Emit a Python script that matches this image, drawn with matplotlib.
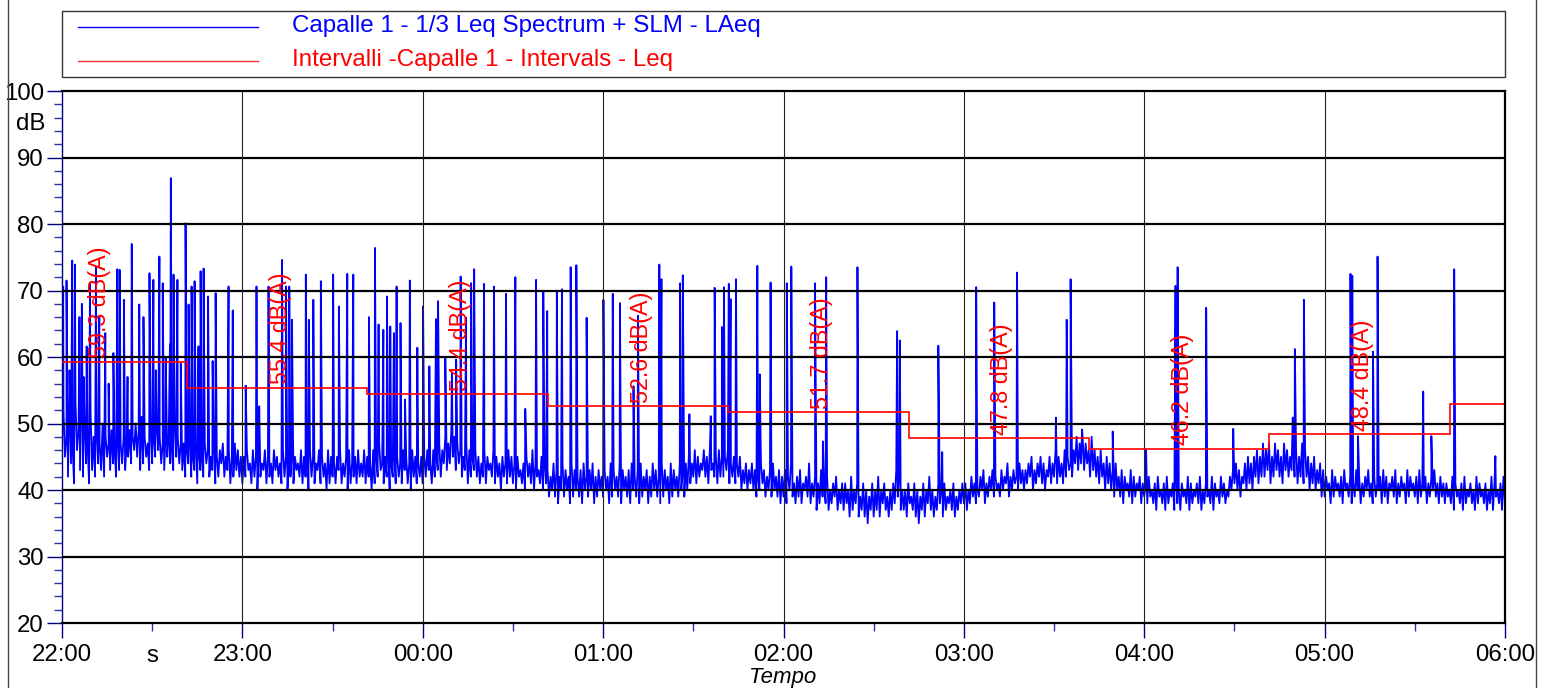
import matplotlib
matplotlib.use("Agg")
import matplotlib.pyplot as plt
import numpy as np
from matplotlib import ticker
from matplotlib.patches import Rectangle
from matplotlib.lines import Line2D
import matplotlib.transforms as mtransforms

plt.rcParams['font.family'] = ['Liberation Sans', 'DejaVu Sans']

W, H = 1543, 688

# LAeq lower envelope, one value per minute from 22:00 (minute 0) to 06:00 (minute 480)
laeq_low = [
    43, 45, 42, 44, 41, 46, 43, 42, 44, 41, 43, 42, 44, 43, 42, 45, 43, 44, 42, 43,
    44, 43, 45, 44, 46, 45, 43, 44, 45, 43, 44, 45, 46, 44, 43, 45, 44, 43, 45, 44,
    43, 42, 44, 42, 43, 41, 43, 42, 44, 42, 43, 41, 42, 44, 42, 43, 41, 42, 43, 42,
    41, 42, 43, 41, 42, 40, 42, 43, 41, 42, 41, 43, 42, 41, 42, 40, 42, 41, 43, 42,
    41, 42, 40, 42, 41, 43, 41, 42, 40, 41, 42, 41, 43, 41, 42, 40, 41, 42, 41, 42,
    42, 41, 42, 40, 41, 42, 43, 41, 42, 40, 42, 41, 42, 41, 43, 41, 40, 42, 41, 42,
    41, 42, 43, 41, 42, 43, 42, 44, 43, 44, 45, 43, 44, 42, 43, 41, 42, 43, 42, 41,
    42, 41, 43, 42, 41, 42, 40, 42, 41, 42, 41, 40, 42, 41, 40, 42, 41, 40, 42, 41,
    40, 41, 39, 40, 39, 38, 40, 39, 40, 38, 39, 40, 39, 38, 40, 39, 40, 38, 39, 40,
    39, 40, 38, 39, 40, 39, 38, 40, 39, 38, 40, 39, 38, 39, 40, 38, 39, 40, 39, 38,
    39, 40, 38, 39, 40, 39, 40, 39, 40, 41, 42, 41, 42, 43, 42, 41, 43, 42, 41, 42,
    42, 43, 41, 42, 41, 42, 40, 41, 40, 41, 40, 39, 40, 41, 39, 40, 39, 40, 39, 38,
    39, 38, 40, 39, 38, 39, 38, 40, 39, 38, 39, 37, 38, 39, 38, 37, 38, 39, 37, 38,
    37, 38, 36, 37, 38, 36, 37, 36, 35, 37, 36, 37, 36, 38, 37, 36, 37, 38, 39, 37,
    37, 36, 38, 37, 36, 35, 37, 36, 38, 37, 36, 37, 38, 36, 37, 38, 37, 36, 37, 38,
    38, 37, 38, 39, 38, 39, 40, 38, 39, 40, 39, 40, 39, 40, 41, 39, 40, 41, 40, 41,
    40, 41, 42, 40, 41, 42, 41, 40, 42, 41, 42, 41, 42, 41, 42, 43, 42, 44, 43, 44,
    43, 44, 42, 43, 42, 41, 42, 40, 41, 40, 39, 40, 39, 38, 40, 39, 38, 39, 40, 38,
    39, 38, 39, 38, 37, 39, 38, 37, 38, 39, 37, 38, 37, 39, 38, 37, 38, 39, 38, 37,
    38, 39, 38, 37, 39, 38, 39, 38, 39, 40, 41, 40, 39, 41, 40, 41, 40, 42, 41, 42,
    42, 43, 41, 42, 43, 42, 41, 43, 42, 43, 42, 41, 42, 41, 42, 40, 41, 40, 41, 39,
    39, 40, 38, 39, 40, 39, 38, 40, 39, 38, 39, 40, 38, 39, 40, 39, 38, 39, 40, 38,
    39, 38, 40, 39, 38, 39, 40, 38, 39, 40, 39, 38, 39, 40, 38, 39, 40, 39, 38, 39,
    38, 39, 38, 37, 39, 38, 37, 38, 39, 38, 37, 38, 39, 38, 37, 38, 37, 39, 38, 37,
    38,
]

# LAeq upper envelope, at the half minutes (minute + 0.5)
laeq_high = [
    52, 48, 55, 47, 53, 49, 56, 50, 47, 52, 48, 49, 47, 50, 48, 47, 49, 46, 48, 47,
    48, 47, 49, 48, 50, 49, 51, 48, 47, 49, 48, 50, 48, 47, 49, 48, 47, 50, 48, 47,
    47, 46, 48, 45, 47, 46, 45, 47, 46, 45, 47, 45, 46, 47, 45, 46, 45, 47, 46, 45,
    45, 46, 44, 46, 45, 47, 44, 46, 45, 44, 46, 45, 44, 46, 45, 44, 46, 45, 44, 46,
    45, 44, 46, 45, 44, 46, 45, 44, 46, 45, 44, 45, 46, 44, 45, 46, 44, 45, 46, 44,
    46, 45, 44, 46, 45, 47, 44, 45, 46, 44, 46, 45, 44, 46, 45, 44, 46, 45, 44, 45,
    45, 46, 44, 46, 45, 47, 46, 48, 47, 49, 48, 47, 46, 45, 47, 46, 45, 46, 45, 44,
    46, 45, 44, 46, 45, 44, 45, 44, 46, 45, 44, 45, 43, 44, 45, 44, 46, 44, 43, 45,
    44, 43, 42, 44, 43, 42, 44, 43, 42, 44, 43, 42, 43, 44, 42, 43, 44, 42, 43, 42,
    43, 42, 44, 43, 42, 44, 43, 42, 43, 44, 42, 43, 44, 42, 43, 42, 44, 43, 42, 44,
    43, 42, 44, 43, 42, 44, 43, 44, 45, 44, 46, 45, 44, 46, 45, 46, 44, 45, 46, 45,
    45, 46, 44, 45, 44, 45, 43, 44, 43, 44, 43, 42, 44, 43, 42, 43, 44, 42, 43, 42,
    43, 42, 44, 41, 42, 43, 41, 42, 44, 41, 42, 41, 43, 41, 42, 40, 41, 42, 40, 41,
    41, 40, 42, 40, 41, 39, 41, 40, 39, 41, 40, 42, 40, 41, 39, 40, 41, 43, 42, 40,
    40, 41, 39, 41, 40, 39, 41, 40, 42, 40, 39, 41, 40, 41, 39, 40, 41, 39, 40, 41,
    41, 40, 42, 41, 40, 42, 43, 41, 42, 43, 42, 41, 43, 42, 44, 42, 43, 42, 44, 43,
    43, 44, 45, 43, 44, 45, 44, 43, 45, 44, 46, 45, 44, 46, 45, 44, 46, 48, 47, 48,
    47, 46, 48, 46, 45, 46, 44, 45, 44, 43, 44, 42, 43, 42, 41, 43, 42, 41, 42, 41,
    41, 42, 40, 41, 42, 40, 41, 42, 40, 41, 42, 40, 41, 40, 42, 41, 40, 41, 42, 40,
    41, 40, 42, 41, 40, 42, 41, 40, 42, 43, 44, 43, 42, 44, 45, 44, 45, 46, 45, 47,
    46, 47, 45, 47, 46, 45, 47, 46, 45, 47, 46, 45, 47, 46, 45, 44, 45, 43, 44, 43,
    42, 41, 43, 42, 41, 42, 43, 41, 42, 41, 43, 42, 41, 42, 43, 41, 42, 41, 42, 43,
    42, 41, 42, 43, 41, 42, 41, 43, 42, 41, 42, 43, 41, 42, 41, 42, 43, 41, 42, 41,
    41, 40, 42, 41, 40, 41, 42, 40, 41, 40, 42, 41, 40, 41, 40, 42, 41, 40, 41, 42,
]

# short noise events (minute, peak dB)
spike_min = [
    0.4, 1.5, 2.5, 3.4, 4.3, 5.8, 6.6, 7.2, 8.2, 9.3, 11.3, 12.4, 14.4, 15.5, 17.1,
    18.4, 19.2, 20.6, 21.8, 23.2, 25.7, 27.1, 29.1, 30.4, 31.2, 32.4, 33.5, 34.5,
    35.9, 36.2, 37.1, 38.4, 39.5, 41.1, 42.1, 43.1, 44.1, 45.4, 46.1, 47.1, 48.6,
    50.1, 51.1, 55.4, 56.8, 61.1, 64.7, 65.6, 68.7, 73.2, 74.5, 75.6, 76.5, 81.1,
    82.1, 83.6, 86.1, 90.2, 92.1, 94.9, 96.9, 102.1, 104.1, 105.3, 106.9, 108.1,
    109.2, 110.4, 111.3, 112.6, 114.1, 115.7, 118.2, 120.1, 122.2, 124.4, 125.1,
    127.5, 129.7, 131.1, 132.6, 134.4, 136.1, 137.1, 140.4, 143.7, 147.7, 150.8,
    154.1, 157.7, 160.1, 161.4, 164.6, 166.3, 169.2, 171.1, 174.5, 180.1, 183.2,
    185.6, 190.1, 191.6, 198.7, 199.4, 205.6, 206.5, 208.7, 215.8, 217.1, 219.5,
    220.2, 221.8, 222.4, 224.2, 231.3, 232.1, 235.7, 241.1, 242.6, 250.5, 253.1,
    254.2, 264.6, 277.8, 278.7, 291.5, 292.8, 304.1, 310.1, 317.7, 330.6, 334.2,
    335.5, 339.3, 349.5, 360.6, 370.4, 371.1, 380.6, 389.6, 409.4, 410.1, 413.1,
    428.6, 429.2, 431.1, 436.1, 437.6, 452.8, 455.5, 463.1, 476.8,
]
spike_db = [
    70.6, 71.5, 58.0, 74.5, 73.9, 66.0, 68.0, 57.0, 61.6, 71.0, 73.6, 66.0, 63.6, 56.0, 60.6,
    73.2, 73.1, 68.6, 57.0, 77.0, 67.9, 66.0, 72.6, 71.6, 58.0, 75.1, 71.1, 60.0,
    61.9, 86.9, 72.4, 71.6, 59.0, 80.1, 67.9, 70.6, 71.4, 61.6, 72.9, 73.3, 69.1,
    59.4, 69.6, 70.6, 67.0, 55.7, 70.6, 52.6, 70.6, 74.6, 70.6, 70.6, 65.6, 72.4,
    65.6, 68.6, 71.4, 72.4, 67.6, 72.5, 72.4, 66.0, 76.4, 64.9, 64.1, 69.1,
    64.6, 63.6, 70.6, 65.1, 53.6, 71.5, 61.4, 67.6, 58.6, 65.7, 68.4,
    59.9, 57.6, 59.6, 72.1, 65.9, 71.1, 73.2, 71.0, 70.6, 69.5, 72.0,
    52.2, 71.6, 69.9, 66.9, 69.7, 70.2, 73.5, 73.8, 65.9, 68.6, 69.5,
    68.1, 55.6, 66.2, 73.9, 71.7, 71.1, 72.3, 51.4, 51.1, 70.4, 64.5,
    70.5, 71.0, 68.7, 71.7, 73.7, 57.4, 71.2, 71.1, 73.6, 71.1, 47.3,
    72.0, 73.5, 63.9, 62.5, 61.7, 45.7, 70.5, 68.2, 72.7, 50.9, 65.6,
    71.7, 49.1, 48.8, 46.1, 70.7, 73.5, 67.4, 49.2, 50.9, 61.2, 68.6,
    72.5, 72.2, 48.1, 60.8, 75.1, 54.8, 48.1, 73.2, 45.1,
]

# interval Leq (red staircase)
interval_edges = [0, 41.6, 101.6, 161.6, 221.6, 281.6, 341.6, 401.6, 461.6, 480]
interval_leq = [59.3, 55.4, 54.4, 52.6, 51.7, 47.8, 46.2, 48.4, 52.9]
label_min = [11.6, 71.6, 131.6, 191.6, 251.6, 311.6, 371.6, 431.6]
label_txt = ['59.3 dB(A)', '55.4 dB(A)', '54.4 dB(A)', '52.6 dB(A)',
             '51.7 dB(A)', '47.8 dB(A)', '46.2 dB(A)', '48.4 dB(A)']

hour_min = [0, 60, 120, 180, 240, 300, 360, 420, 480]
hour_labels = ['22:00', '23:00', '00:00', '01:00', '02:00', '03:00', '04:00', '05:00', '06:00']

# merge lower / upper samples and events into one time series
t = np.concatenate([np.arange(len(laeq_low)), np.arange(len(laeq_high)) + 0.5,
                    np.array(spike_min)])
v = np.concatenate([np.array(laeq_low, float), np.array(laeq_high, float),
                    np.array(spike_db)])
order = np.argsort(t, kind='stable')
t, v = t[order], v[order]

fig = plt.figure(figsize=(W / 100, H / 100), dpi=100)
ax = fig.add_axes([62 / W, 1 - 623 / H, 1443 / W, 532 / H])

ax.plot(t, v, color='#0000ff', lw=1.3, zorder=2)
ax.stairs(interval_leq, interval_edges, baseline=None, color='#ff0000', lw=1.2, zorder=4)
for xm, s, lv in zip(label_min, label_txt, interval_leq):
    ax.text(xm + 1, lv + 0.5, s, rotation=90, ha='center', va='bottom',
            color='#ff0000', fontsize=16.8, zorder=5)

for y in range(30, 100, 10):
    ax.axhline(y, color='black', lw=1.6, zorder=3)
for x in hour_min[1:-1]:
    ax.axvline(x, color='#222222', lw=0.8, zorder=3)

ax.set_xlim(0, 480)
ax.set_ylim(20, 100)
ax.xaxis.set_major_locator(ticker.FixedLocator(hour_min))
ax.xaxis.set_major_formatter(ticker.FixedFormatter(hour_labels))
ax.xaxis.set_minor_locator(ticker.FixedLocator([30, 90, 150, 210, 270, 330, 390, 450]))
ax.yaxis.set_major_locator(ticker.MultipleLocator(10))
ax.yaxis.set_minor_locator(ticker.MultipleLocator(2))
ax.tick_params(which='major', length=11, width=1, color='#000080', labelsize=17.3, pad=2)
ax.tick_params(axis='x', which='major', pad=4)
ax.tick_params(which='minor', length=6, width=1, color='#3030a0')

for side in ['top', 'right', 'bottom']:
    ax.spines[side].set_color('black')
    ax.spines[side].set_linewidth(1.6)
    ax.spines[side].set_zorder(6)
ax.spines['left'].set_color('#000080')
ax.spines['left'].set_linewidth(1)

trans = mtransforms.blended_transform_factory(ax.transAxes, ax.transData)
ax.text(-17 / 1443, 95, 'dB', transform=trans, ha='right', va='center', fontsize=17.3)
ax.text(30, 20, 's', ha='center', va='top', fontsize=17.3,
        transform=ax.transData + mtransforms.ScaledTranslation(0, -22 / 100, fig.dpi_scale_trans))
fig.text(783 / W, 1 - 677 / H, 'Tempo', ha='center', va='center', fontsize=16, style='italic')

# legend box
fig.add_artist(Rectangle((62 / W, 1 - 77 / H), 1443 / W, 66 / H, transform=fig.transFigure,
                         fill=False, edgecolor='#333333', lw=1))
fig.add_artist(Line2D([78 / W, 258 / W], [1 - 27 / H] * 2, color='#0000ff', lw=1))
fig.add_artist(Line2D([78 / W, 258 / W], [1 - 61 / H] * 2, color='#ff3030', lw=1))
fig.text(292 / W, 1 - 26 / H, 'Capalle 1 - 1/3 Leq Spectrum + SLM - LAeq',
         color='#0000ff', fontsize=17.4, va='center')
fig.text(292 / W, 1 - 60 / H, 'Intervalli -Capalle 1 - Intervals - Leq',
         color='#ff0000', fontsize=17.4, va='center')

# outer frame
fig.add_artist(Line2D([8 / W, 8 / W], [0, 1], color='#444444', lw=1))
fig.add_artist(Line2D([1536 / W, 1536 / W], [0, 1], color='#444444', lw=1))

fig.savefig('out.png', dpi=100)
